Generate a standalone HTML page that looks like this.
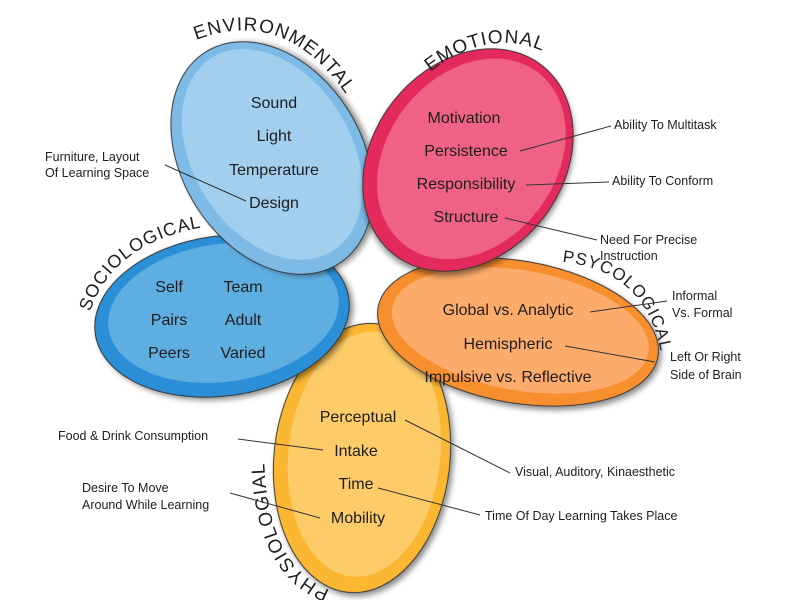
<!DOCTYPE html>
<html><head><meta charset="utf-8"><style>
html,body{margin:0;padding:0;background:#fff;}
svg{display:block;}
text{font-family:"Liberation Sans",sans-serif;fill:#1e1e1e;}
.l{font-size:16px;text-anchor:middle;}
.a{font-size:12.5px;}
.t{font-size:19px;letter-spacing:1px;}
line{stroke:#333;stroke-width:1;}
</style></head><body>
<svg width="800" height="600" viewBox="0 0 800 600" xmlns="http://www.w3.org/2000/svg">
<defs>
<filter id="sh" x="-20%" y="-20%" width="140%" height="140%">
<feDropShadow dx="3" dy="3" stdDeviation="3" flood-color="#000" flood-opacity="0.45"/>
</filter>
<path id="pEnv" d="M196,40 Q300,0 366,128"/>
<path id="pEmo" d="M430,72 Q495,22 556,58"/>
<path id="pSoc" d="M90,312 Q118,228 245,223"/>
<path id="pPsy" d="M562,262 Q668,272 664,402"/>
<path id="pPhy" d="M330,590 Q262,565 264,440"/>
</defs>

<!-- Physiological (yellow) -->
<g transform="translate(362,458) rotate(6)" filter="url(#sh)">
<ellipse rx="88" ry="135" fill="#fbb731" stroke="#333" stroke-width="1"/>
<ellipse rx="76" ry="123" cx="2" cy="-4" fill="#fdcc68"/>
</g>
<!-- Psychological (orange) -->
<g transform="translate(518,332) rotate(10)" filter="url(#sh)">
<ellipse rx="142" ry="71" fill="#f78f2e" stroke="#333" stroke-width="1"/>
<ellipse rx="130" ry="60" cx="2" cy="-2" fill="#fdab6a"/>
</g>
<!-- Sociological (blue) -->
<g transform="translate(222,316) rotate(-8)" filter="url(#sh)">
<ellipse rx="128" ry="80" fill="#2a8fd6" stroke="#333" stroke-width="1"/>
<ellipse rx="116" ry="69" cx="2" cy="-3" fill="#5eaee2"/>
</g>
<!-- Environmental (light blue) -->
<g transform="translate(272,158) rotate(-32)" filter="url(#sh)">
<ellipse rx="90" ry="125" fill="#7dbbe6" stroke="#333" stroke-width="1"/>
<ellipse rx="79" ry="114" cx="2" cy="-3" fill="#a2cfee"/>
</g>
<!-- Emotional (red) -->
<g transform="translate(468,160) rotate(38)" filter="url(#sh)">
<ellipse rx="95" ry="120" fill="#e42c5c" stroke="#333" stroke-width="1"/>
<ellipse rx="84" ry="109" cx="2" cy="-3" fill="#ef6286"/>
</g>

<!-- curved titles -->
<text class="t"><textPath href="#pEnv">ENVIRONMENTAL</textPath></text>
<text class="t"><textPath href="#pEmo">EMOTIONAL</textPath></text>
<text class="t" style="font-size:18px"><textPath href="#pSoc">SOCIOLOGICAL</textPath></text>
<text class="t" style="font-size:17px"><textPath href="#pPsy">PSYCOLOGICAL</textPath></text>
<text class="t"><textPath href="#pPhy">PHYSIOLOGIAL</textPath></text>

<!-- labels -->
<text class="l" x="274" y="108">Sound</text>
<text class="l" x="274" y="141">Light</text>
<text class="l" x="274" y="175">Temperature</text>
<text class="l" x="274" y="208">Design</text>

<text class="l" x="464" y="123">Motivation</text>
<text class="l" x="466" y="156">Persistence</text>
<text class="l" x="466" y="189">Responsibility</text>
<text class="l" x="466" y="222">Structure</text>

<text class="l" x="169" y="292">Self</text>
<text class="l" x="169" y="325">Pairs</text>
<text class="l" x="169" y="358">Peers</text>
<text class="l" x="243" y="292">Team</text>
<text class="l" x="243" y="325">Adult</text>
<text class="l" x="243" y="358">Varied</text>

<text class="l" x="508" y="315">Global vs. Analytic</text>
<text class="l" x="508" y="349">Hemispheric</text>
<text class="l" x="508" y="382">Impulsive vs. Reflective</text>

<text class="l" x="358" y="422">Perceptual</text>
<text class="l" x="356" y="456">Intake</text>
<text class="l" x="356" y="489">Time</text>
<text class="l" x="358" y="523">Mobility</text>

<!-- annotations -->
<text class="a" x="45" y="161">Furniture, Layout</text>
<text class="a" x="45" y="177">Of Learning Space</text>
<line x1="165" y1="165" x2="246" y2="201"/>

<text class="a" x="614" y="129">Ability To Multitask</text>
<line x1="611" y1="126" x2="520" y2="151"/>
<text class="a" x="612" y="185">Ability To Conform</text>
<line x1="609" y1="182" x2="526" y2="185"/>
<text class="a" x="600" y="244">Need For Precise</text>
<text class="a" x="600" y="260">Instruction</text>
<line x1="597" y1="240" x2="505" y2="218"/>

<text class="a" x="672" y="300">Informal</text>
<text class="a" x="672" y="317">Vs. Formal</text>
<line x1="667" y1="301" x2="590" y2="312"/>
<text class="a" x="670" y="361">Left Or Right</text>
<text class="a" x="670" y="379">Side of Brain</text>
<line x1="655" y1="362" x2="565" y2="346"/>

<text class="a" x="58" y="440">Food &amp; Drink Consumption</text>
<line x1="238" y1="439" x2="323" y2="450"/>
<text class="a" x="515" y="476">Visual, Auditory, Kinaesthetic</text>
<line x1="510" y1="473" x2="405" y2="420"/>
<text class="a" x="82" y="492">Desire To Move</text>
<text class="a" x="82" y="509">Around While Learning</text>
<line x1="230" y1="493" x2="320" y2="518"/>
<text class="a" x="485" y="520">Time Of Day Learning Takes Place</text>
<line x1="480" y1="515" x2="378" y2="488"/>
</svg>
</body></html>
